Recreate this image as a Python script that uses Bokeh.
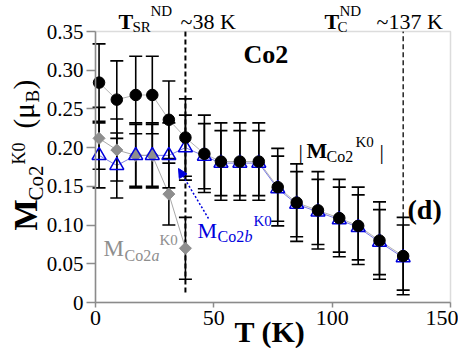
from bokeh.plotting import figure
from bokeh.models import (Range1d, FixedTicker, Label, Arrow, NormalHead,
                          LinearAxis, BoxAnnotation)
from bokeh.embed import file_html
from bokeh.resources import INLINE

# ---------------- data ----------------
T = [1.5, 9, 17, 24, 31, 38, 46, 53, 61, 69, 77, 85, 94, 103, 111, 120, 130]
m_total = [0.284, 0.262, 0.268, 0.268, 0.236, 0.213, 0.192, 0.182, 0.182,
           0.182, 0.149, 0.129, 0.119, 0.109, 0.099, 0.080, 0.060]
m_total_err = [0.05, 0.05, 0.05, 0.05, 0.05, 0.05, 0.05, 0.05, 0.05,
               0.05, 0.05, 0.05, 0.05, 0.05, 0.05, 0.05, 0.05]
m_b = [0.190, 0.177, 0.190, 0.190, 0.190, 0.200, 0.189, 0.180, 0.180,
       0.180, 0.147, 0.127, 0.117, 0.107, 0.097, 0.078, 0.058]
m_b_err = [0.042, 0.042, 0.042, 0.042, 0.042, 0.042, 0.042, 0.042, 0.042,
           0.042, 0.042, 0.042, 0.042, 0.042, 0.042, 0.042, 0.042]
T_a = [1.5, 9, 17, 24, 31, 38]
m_a = [0.212, 0.197, 0.190, 0.190, 0.140, 0.070]
m_a_err = [0.04, 0.04, 0.04, 0.04, 0.04, 0.04]
T_SR = 38
T_C_line = 130
x_ticks = [0, 50, 100, 150]
x_tick_labels = ["0", "50", "100", "150"]
y_ticks = [0, 0.05, 0.10, 0.15, 0.20, 0.25, 0.30, 0.35]
y_tick_labels = ["0", "0.05", "0.10", "0.15", "0.20", "0.25", "0.30", "0.35"]

FONT = "Liberation Serif"
BLUE = "#0000dd"
GRAY = "#8e8e8e"
AX = "#8c8c8c"

# axes box in window pixels: left 95, right 450, top 31, bottom 302
X0, X1, Y0, Y1 = 0, 150, 0, 0.35
W, H = 458, 348

def dx(X):
    return X0 + (X - 95) * (X1 - X0) / 355.0

def dy(Y):
    return Y0 + (302 - Y) * (Y1 - Y0) / 271.0

p = figure(width=W, height=H, output_backend="svg", toolbar_location=None,
           x_range=Range1d(dx(0), dx(W)), y_range=Range1d(dy(H), dy(0)),
           x_axis_location=None, y_axis_location=None,
           min_border=0, background_fill_color="white",
           border_fill_color="white")
p.grid.visible = False
p.outline_line_color = None

# plot box (top and right edges; left/bottom are the axes)
p.add_layout(BoxAnnotation(left=X0, right=X1, bottom=Y0, top=Y1,
                           fill_alpha=0, line_color=AX, line_width=1.5))

xaxis = LinearAxis(fixed_location=Y0, bounds=(X0, X1))
yaxis = LinearAxis(fixed_location=X0, bounds=(Y0, Y1))
p.add_layout(xaxis, "below")
p.add_layout(yaxis, "left")

for ax, ticks, labels, tout, fs in ((xaxis, x_ticks, x_tick_labels, 5, "22px"),
                                    (yaxis, y_ticks, y_tick_labels, 9, "21px")):
    ax.ticker = FixedTicker(ticks=ticks)
    ax.major_label_overrides = {t: l for t, l in zip(ticks, labels)}
    ax.axis_line_color = AX
    ax.axis_line_width = 1.5
    ax.major_tick_line_color = AX
    ax.major_tick_line_width = 1.5
    ax.major_tick_in = 0
    ax.major_tick_out = tout
    ax.minor_tick_line_color = None
    ax.major_label_text_font = FONT
    ax.major_label_text_font_size = fs
    ax.major_label_text_color = "black"
    ax.major_label_standoff = 3

# ---------------- vertical dashed lines ----------------
p.segment(x0=[T_SR], y0=[0.013], x1=[T_SR], y1=[Y1], line_color="black",
          line_width=2, line_dash="5 3")
p.segment(x0=[T_C_line], y0=[0.11], x1=[T_C_line], y1=[Y1], line_color="black",
          line_width=1.3, line_dash="5 3")

# ---------------- connecting lines ----------------
p.line(T, m_total, line_color="#b4b4b4", line_width=1)
p.line(T, m_b, line_color="#5a5ae0", line_width=0.8)
p.line(T_a, m_a, line_color="#a8a8a8", line_width=1)

# ---------------- error bars ----------------
def errbars(xs, ys, es):
    lo = [y - e for y, e in zip(ys, es)]
    hi = [y + e for y, e in zip(ys, es)]
    p.segment(x0=xs, y0=lo, x1=xs, y1=hi, line_color="black", line_width=1.6)
    p.scatter(xs + xs, lo + hi, marker="dash", size=13, line_color="black",
              line_width=1.6)

errbars(T_a, m_a, m_a_err)
errbars(T, m_b, m_b_err)
errbars(T, m_total, m_total_err)

# ---------------- markers ----------------
p.scatter(T_a, m_a, marker="square", angle=45, angle_units="deg", size=8.5,
          fill_color=GRAY, line_color=GRAY)
p.scatter(T, m_b, marker="triangle", size=14, fill_alpha=0, line_color=BLUE,
          line_width=1.5)
p.scatter(T, m_total, marker="circle", size=11.5, fill_color="black",
          line_color="black")

# ---------------- arrow ----------------
p.add_layout(Arrow(x_start=dx(208), y_start=dy(218), x_end=dx(178), y_end=dy(168),
                   line_color=BLUE, line_width=1.5, line_dash="2 2",
                   end=NormalHead(size=9, fill_color=BLUE, line_color=BLUE)))

# ---------------- texts ----------------
K = 0.34  # baseline -> middle of the text box, in em

def lab(txt, X, Y, size, color="black", style="normal", angle=0):
    # (X, Y) = start of the text on its baseline, in window pixels
    if angle == 0:
        ax_, ay_ = X, Y - K * size
    else:
        ax_, ay_ = X - K * size, Y
    p.add_layout(Label(x=dx(ax_), y=dy(ay_), text=txt, text_font=FONT,
                       text_font_size=f"{size}px", text_font_style=style,
                       text_color=color, angle=angle, angle_units="deg",
                       text_align="left", text_baseline="middle"))

# T_SR^ND ~38 K
lab("T", 118, 28, 22, style="bold")
lab("SR", 132, 32, 15)
lab("ND", 150, 16, 15)
lab("~38 K", 180, 28, 22)
# T_C^ND ~137 K
lab("T", 324, 28, 22, style="bold")
lab("C", 337, 32, 15)
lab("ND", 339, 16, 15)
lab("~137 K", 376, 28, 22)
# Co2
lab("Co2", 243, 63, 26, style="bold")
# |M_Co2^K0|
lab("|", 298, 158, 22)
lab("M", 306, 157, 22, style="bold")
lab("Co2", 326, 161, 16)
lab("K0", 355, 147, 15)
lab("|", 379, 158, 22)
# (d)
lab("(d)", 407, 219, 28, style="bold")
# M_Co2a^K0 (grey)
lab("M", 103, 256, 23, color=GRAY)
lab("Co2", 124, 260, 16, color=GRAY)
lab("a", 151, 260, 16, color=GRAY, style="italic")
lab("K0", 159, 245, 15, color=GRAY)
# M_Co2b^K0 (blue)
lab("M", 197, 237, 22, color=BLUE)
lab("Co2", 217, 241, 16, color=BLUE)
lab("b", 244, 241, 16, color=BLUE, style="italic")
lab("K0", 253, 226, 15, color=BLUE)
# x axis title
lab("T (K)", 234, 341, 30, style="bold")
# y axis title (rotated, reading upward)
lab("M", 37, 230, 33, style="bold", angle=90)
lab("Co2", 43, 200, 21, angle=90)
lab("K0", 25, 164, 18, angle=90)
lab("(\u03bc", 33, 128, 29, angle=90)
lab("B", 38, 102, 19, angle=90)
lab(")", 33, 89, 29, angle=90)

html = file_html(p, INLINE)
open("out.html", "w").write(html)
